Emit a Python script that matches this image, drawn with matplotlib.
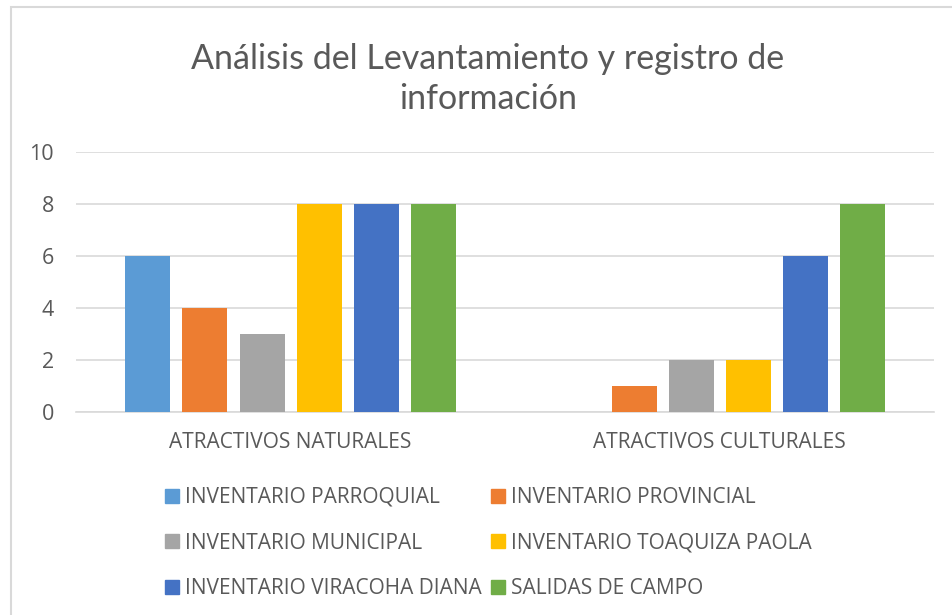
import matplotlib
matplotlib.use("Agg")
import matplotlib.pyplot as plt
import matplotlib.patches as mpatches
import numpy as np

categories = ["ATRACTIVOS NATURALES", "ATRACTIVOS CULTURALES"]
series_names = ["INVENTARIO PARROQUIAL", "INVENTARIO PROVINCIAL", "INVENTARIO MUNICIPAL",
                "INVENTARIO TOAQUIZA PAOLA", "INVENTARIO VIRACOHA DIANA", "SALIDAS DE CAMPO"]
parroquial = [6, 0]
provincial = [4, 1]
municipal = [3, 2]
toaquiza = [8, 2]
viracoha = [8, 6]
salidas = [8, 8]
yticks = [0, 2, 4, 6, 8, 10]
colors = ["#5B9BD5", "#ED7D31", "#A5A5A5", "#FFC000", "#4472C4", "#70AD47"]

values = [parroquial, provincial, municipal, toaquiza, viracoha, salidas]

FONT = "Open Sans"
TFONT = "Lato"
TXT = "#595959"
FS = 15
W, H = 952, 615
fig = plt.figure(figsize=(W / 100, H / 100), dpi=100)

# chart area border
fig.patches.append(mpatches.Rectangle((11 / W, -0.1), 1.2, 0.1 + (1 - 7 / H),
                                      transform=fig.transFigure, fill=False,
                                      edgecolor="#D9D9D9", linewidth=1.5))

ax = fig.add_axes([76 / W, 1 - 412 / H, 858 / W, 260 / H])
x = np.arange(len(categories))
bw = 45 / 429
step = 57 / 429
for i, (name, vals, c) in enumerate(zip(series_names, values, colors)):
    ax.bar(x + (i - 2.5) * step, vals, width=bw, color=c, label=name, zorder=3)

ax.set_xlim(-0.5, 1.5)
ax.set_ylim(0, 10)
ax.set_yticks(yticks)
ax.set_yticklabels([str(v) for v in yticks], fontsize=15.5, color=TXT, family=FONT)
ax.set_xticks(x)
ax.set_xticklabels(categories, fontsize=FS, color=TXT, family=FONT)
ax.tick_params(axis="both", length=0)
ax.tick_params(axis="y", pad=16)
ax.tick_params(axis="x", pad=14.5)
ax.grid(axis="y", color="#D9D9D9", linewidth=1.2, zorder=0)
for s in ["top", "right", "left"]:
    ax.spines[s].set_visible(False)
ax.spines["bottom"].set_color("#D9D9D9")
ax.spines["bottom"].set_linewidth(1.2)

fig.text(488 / W, 1 - 79 / H, "Análisis del Levantamiento y registro de\ninformación",
         ha="center", va="center", fontsize=24.5, color=TXT, family=TFONT, linespacing=1.34)

order = [0, 2, 4, 1, 3, 5]
handles = [mpatches.Rectangle((0, 0), 1, 1, color=colors[i]) for i in order]
labels = [series_names[i] for i in order]
leg = fig.legend(handles, labels, ncol=2, loc="upper left",
                 bbox_to_anchor=(165 / W, 1 - 487 / H), frameon=False,
                 prop={"family": FONT, "size": FS}, handlelength=0.67, handleheight=0.67,
                 handletextpad=0.29, labelspacing=1.18, columnspacing=0.43,
                 borderpad=0, borderaxespad=0)
for t in leg.get_texts():
    t.set_color(TXT)

fig.savefig("out.png", dpi=100)
